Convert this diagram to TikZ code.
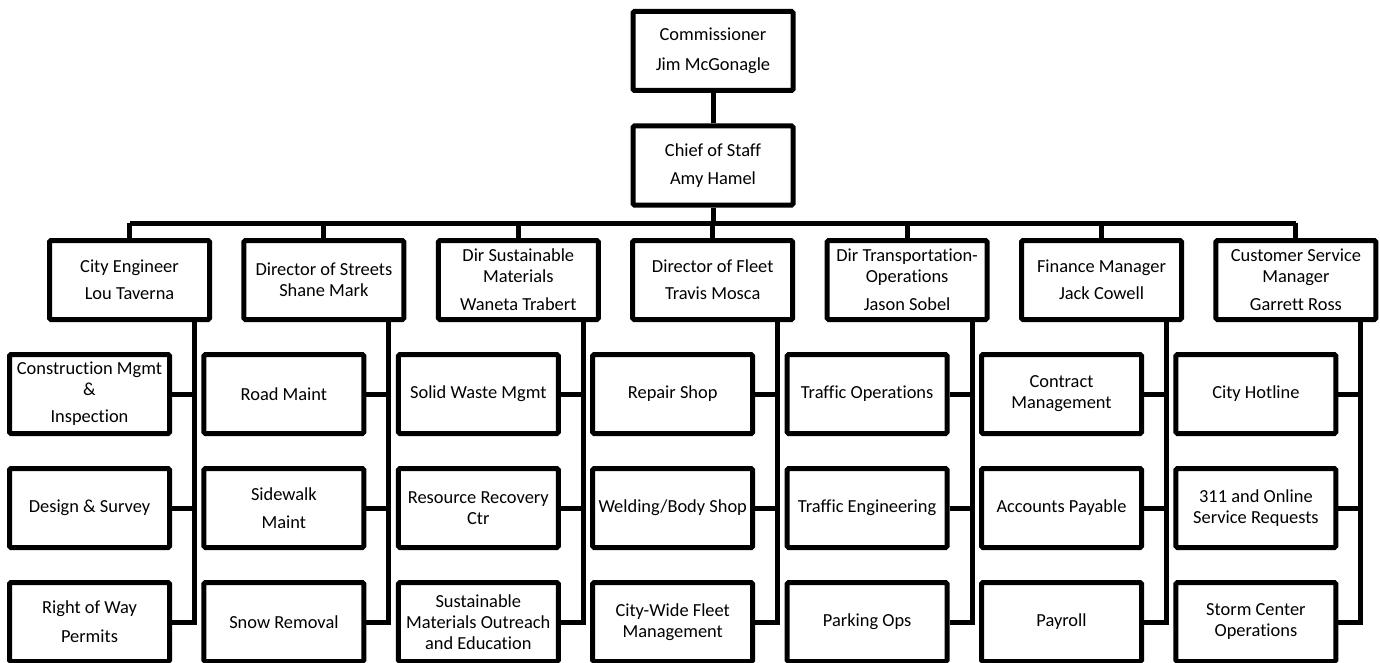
\documentclass[tikz,border=0pt]{standalone}
\usepackage{fontspec}
\setmainfont{Carlito}[Ligatures=NoCommon]
\begin{document}
\begin{tikzpicture}[x=1pt,y=-1pt,
  orgbox/.style={draw=black, line width=5pt, rounded corners=1.5pt, fill=white,
    minimum width=160pt, minimum height=79pt, inner sep=0pt, align=center,
    font=\fontsize{18.4}{21}\selectfont},
  link/.style={draw=black, line width=5pt, line join=miter}]
\useasboundingbox (0,0) rectangle (1380,663);
\fill[white] (0,0) rectangle (1380,663);

% top
\node[orgbox] (com) at (713,51) {Commissioner\\[9pt]Jim McGonagle};
\node[orgbox] (cos) at (713,165.5) {Chief of Staff\\[7pt]Amy Hamel};

% managers
\node[orgbox] (m1) at (129.5,280) {City Engineer\\[6pt]Lou Taverna};
\node[orgbox] (m2) at (323.9,280) {Director of Streets\\Shane Mark};
\node[orgbox] (m3) at (518.3,280) {Dir Sustainable\\Materials\\[7pt]Waneta Trabert};
\node[orgbox] (m4) at (712.7,280) {Director of Fleet\\[6pt]Travis Mosca};
\node[orgbox] (m5) at (907.1,280) {Dir Transportation-\\Operations\\[7pt]Jason Sobel};
\node[orgbox] (m6) at (1101.5,280) {Finance Manager\\[6pt]Jack Cowell};
\node[orgbox] (m7) at (1295.9,280) {Customer Service\\Manager\\[7pt]Garrett Ross};

% sub units
\node[orgbox] (s11) at (89.5,394) {Construction Mgmt\\\&\\[6pt]Inspection};
\node[orgbox] (s12) at (89.5,508) {Design \& Survey};
\node[orgbox] (s13) at (89.5,622) {Right of Way\\[8pt]Permits};

\node[orgbox] (s21) at (283.9,394) {Road Maint};
\node[orgbox] (s22) at (283.9,508) {Sidewalk\\[7pt]Maint};
\node[orgbox] (s23) at (283.9,622) {Snow Removal};

\node[orgbox] (s31) at (478.3,394) {Solid Waste Mgmt};
\node[orgbox] (s32) at (478.3,508) {Resource Recovery\\Ctr};
\node[orgbox] (s33) at (478.3,622) {Sustainable\\Materials Outreach\\and Education};

\node[orgbox] (s41) at (672.7,394) {Repair Shop};
\node[orgbox] (s42) at (672.7,508) {Welding/Body Shop};
\node[orgbox] (s43) at (672.7,622) {City-Wide Fleet\\Management};

\node[orgbox] (s51) at (867.1,394) {Traffic Operations};
\node[orgbox] (s52) at (867.1,508) {Traffic Engineering};
\node[orgbox] (s53) at (867.1,622) {Parking Ops};

\node[orgbox] (s61) at (1061.5,394) {Contract\\Management};
\node[orgbox] (s62) at (1061.5,508) {Accounts Payable};
\node[orgbox] (s63) at (1061.5,622) {Payroll};

\node[orgbox] (s71) at (1255.9,394) {City Hotline};
\node[orgbox] (s72) at (1255.9,508) {311 and Online\\Service Requests};
\node[orgbox] (s73) at (1255.9,622) {Storm Center\\Operations};

% connectors
\draw[link] (com.south) -- (cos.north);
\coordinate (bus) at (713,223);
\draw[link] (cos.south) -- (bus);
\draw[link] (m1.north |- bus) -- (m7.north |- bus);
\foreach \i in {1,...,7} {
  \draw[link] (m\i.north |- bus) -- (m\i.north);
  \path (m\i.center) ++(65,0) coordinate (vx\i);
  \draw[link] (vx\i |- m\i.south) -- (vx\i |- s\i3.east) -- (s\i3.east);
  \draw[link] (s\i1.east) -- (s\i1.east -| vx\i);
  \draw[link] (s\i2.east) -- (s\i2.east -| vx\i);
}
\end{tikzpicture}
\end{document}
